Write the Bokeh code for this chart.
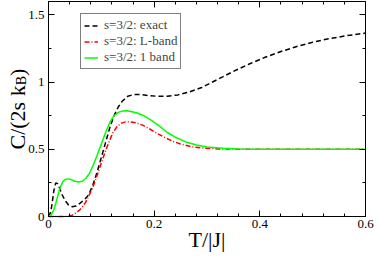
import math
from bokeh.plotting import figure
from bokeh.models import Range1d, FixedTicker, LinearAxis, Label, Legend, LegendItem, CustomJSTickFormatter
from bokeh.embed import file_html
from bokeh.resources import INLINE

# ---- data ----
exact_T = [0.000, 0.004, 0.007, 0.010, 0.0137, 0.017, 0.021, 0.026, 0.032, 0.038, 0.045,
           0.052, 0.060, 0.068, 0.076, 0.084, 0.092, 0.100, 0.108, 0.116, 0.124, 0.132,
           0.140, 0.150, 0.162, 0.175, 0.190, 0.205, 0.225, 0.245, 0.265, 0.29, 0.32,
           0.35, 0.38, 0.41, 0.44, 0.47, 0.50, 0.53, 0.56, 0.60]
exact_C = [0.000, 0.03, 0.10, 0.19, 0.25, 0.245, 0.21, 0.16, 0.115, 0.085, 0.073,
           0.078, 0.10, 0.125, 0.16, 0.235, 0.33, 0.44, 0.55, 0.66, 0.75, 0.815,
           0.86, 0.895, 0.908, 0.907, 0.90, 0.895, 0.895, 0.905, 0.925, 0.96, 1.02,
           1.08, 1.135, 1.185, 1.228, 1.265, 1.297, 1.322, 1.343, 1.365]

lband_T = [0.000, 0.030, 0.038, 0.045, 0.051, 0.058, 0.064, 0.070, 0.076, 0.082, 0.088,
           0.095, 0.102, 0.108, 0.115, 0.122, 0.130, 0.138, 0.146, 0.154, 0.165, 0.178,
           0.190, 0.205, 0.220, 0.235, 0.25, 0.27, 0.29, 0.32, 0.36, 0.40, 0.60]
lband_C = [0.000, 0.000, 0.003, 0.01, 0.025, 0.045, 0.07, 0.105, 0.15, 0.20, 0.26,
           0.34, 0.42, 0.49, 0.56, 0.625, 0.67, 0.695, 0.704, 0.705, 0.698, 0.68,
           0.655, 0.62, 0.588, 0.56, 0.54, 0.52, 0.51, 0.503, 0.501, 0.500, 0.500]

oneband_T = [0.000, 0.005, 0.010, 0.014, 0.018, 0.022, 0.027, 0.032, 0.037, 0.043, 0.050,
             0.057, 0.064, 0.071, 0.078, 0.085, 0.092, 0.100, 0.108, 0.116, 0.124, 0.132,
             0.140, 0.148, 0.156, 0.168, 0.180, 0.195, 0.210, 0.225, 0.240, 0.26, 0.28,
             0.30, 0.33, 0.36, 0.40, 0.45, 0.60]
oneband_C = [0.000, 0.01, 0.05, 0.10, 0.16, 0.215, 0.258, 0.277, 0.280, 0.274, 0.262,
             0.256, 0.262, 0.285, 0.325, 0.385, 0.455, 0.54, 0.625, 0.70, 0.75, 0.775,
             0.786, 0.787, 0.782, 0.77, 0.75, 0.715, 0.672, 0.625, 0.59, 0.555, 0.532,
             0.518, 0.508, 0.503, 0.501, 0.500, 0.500]

series_labels = ["s=3/2: exact", "s=3/2: L-band", "s=3/2: 1 band"]

x_ticks = [0, 0.2, 0.4, 0.6]
x_tick_labels = ["0", "0.2", "0.4", "0.6"]
y_ticks = [0, 0.5, 1.0, 1.5]
y_tick_labels = ["0", "0.5", "1", "1.5"]
x_label = "T/|J|"
y_label_main, y_label_sub, y_label_end = "C/(2s k", "B", ")"

X0, X1, Y0, Y1 = 0.0, 0.6, 0.0, 1.6

# ---- layout (pixels inside the figure) ----
W, H = 374, 252
PL, PR, PT, PB = 48, 365, 1, 216      # where the data box sits
KX = (PR - PL) / (X1 - X0)
KY = (PB - PT) / (Y1 - Y0)
FONT = "Liberation Serif"


def dx(px):
    return X0 + (px - PL) / KX


def dy(py):
    return Y0 + (PB - py) / KY


p = figure(width=W, height=H, output_backend="svg", toolbar_location=None,
           x_range=Range1d(dx(0), dx(W)), y_range=Range1d(dy(H), dy(0)),
           min_border_left=0, min_border_right=0, min_border_top=0, min_border_bottom=0,
           x_axis_location=None, y_axis_location=None)
if p.title is not None:
    p.title.visible = False
p.xgrid.visible = False
p.ygrid.visible = False
p.outline_line_color = None
p.background_fill_color = "white"
p.border_fill_color = "white"

x_minor = [round(0.04 * i, 4) for i in range(0, 16)]
y_minor = [round(0.25 * i, 4) for i in range(0, 7)]


def make_axis(ticks, labels, minor, show_labels, loc, bounds):
    ax = LinearAxis(ticker=FixedTicker(ticks=ticks, minor_ticks=minor),
                    fixed_location=loc, bounds=bounds)
    if show_labels:
        ax.major_label_overrides = {t: l for t, l in zip(ticks, labels)}
        ax.major_label_text_font = FONT
        ax.major_label_text_font_size = "13px"
        ax.major_label_text_color = "black"
    else:
        ax.formatter = CustomJSTickFormatter(code="return ''")
        ax.major_label_standoff = 0
        ax.major_label_text_font_size = "0px"
    ax.axis_line_color = "black"
    ax.axis_line_width = 1
    ax.major_tick_in = 6
    ax.major_tick_out = 0
    ax.minor_tick_in = 3
    ax.minor_tick_out = 0
    ax.major_tick_line_color = "black"
    ax.minor_tick_line_color = "black"
    return ax


bx = make_axis(x_ticks, x_tick_labels, x_minor, True, Y0, (X0, X1))
bx.major_label_standoff = 3
lx = make_axis(y_ticks, y_tick_labels, y_minor, True, X0, (Y0, Y1))
lx.major_label_standoff = 4
tx = make_axis(x_ticks, x_tick_labels, x_minor, False, Y1, (X0, X1))
rx = make_axis(y_ticks, y_tick_labels, y_minor, False, X1, (Y0, Y1))
p.add_layout(bx, "below")
p.add_layout(lx, "left")
p.add_layout(tx, "above")
p.add_layout(rx, "right")

r1 = p.line(exact_T, exact_C, line_color="black", line_width=1.5, line_dash="5 3")
r2 = p.line(lband_T, lband_C, line_color="#ff0000", line_width=1.5, line_dash="5 2 1 2")
r3 = p.line(oneband_T, oneband_C, line_color="#00ff00", line_width=1.5)

legend = Legend(items=[LegendItem(label=series_labels[0], renderers=[r1]),
                       LegendItem(label=series_labels[1], renderers=[r2]),
                       LegendItem(label=series_labels[2], renderers=[r3])],
                location=(80, H - 69))
legend.label_text_font = FONT
legend.label_text_font_size = "13px"
legend.label_text_line_height = 0.85
legend.glyph_width = 14
legend.glyph_height = 11
legend.label_height = 11
legend.label_standoff = 6
legend.padding = 3
legend.spacing = 0
legend.margin = 0
legend.border_line_color = "black"
legend.border_line_width = 1
legend.background_fill_alpha = 1
p.add_layout(legend)

# ---- axis titles (inside the figure area, so nothing is clipped) ----
vcommon = dict(x_units="data", y_units="data", text_font=FONT, text_color="black",
               text_baseline="alphabetic", text_align="left", angle=math.pi / 2)
p.add_layout(Label(x=dx(17), y=dy(149), text=y_label_main, text_font_size="22px", **vcommon))
p.add_layout(Label(x=dx(20.5), y=dy(84.8), text=y_label_sub, text_font_size="14px", **vcommon))
p.add_layout(Label(x=dx(17), y=dy(75.5), text=y_label_end, text_font_size="22px", **vcommon))
p.add_layout(Label(x=dx((PL + PR) / 2), y=dy(239), text=x_label, x_units="data", y_units="data",
                   text_font=FONT, text_color="black", text_baseline="middle",
                   text_align="center", text_font_size="22px"))

open("out.html", "w").write(file_html(p, INLINE))
